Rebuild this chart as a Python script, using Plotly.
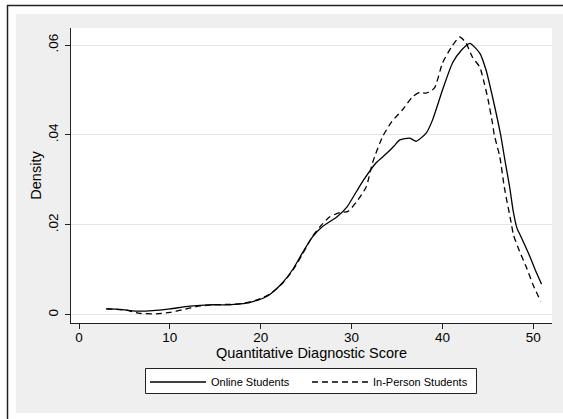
import plotly.graph_objects as go

# ---- data ----
online_x = [3.0, 4.5, 6.3, 8.1, 10.0, 12.2, 14.4, 16.6, 17.7, 18.8, 19.6, 20.2, 21.0,
            22.4, 23.5, 24.6, 25.7, 26.8, 28.4, 29.5, 30.5, 31.4, 32.7, 33.8, 34.7,
            35.3, 36.4, 37.1, 38.2, 38.9, 40.0, 41.1, 42.1, 43.0, 44.1, 44.8, 45.5,
            46.4, 46.9, 47.4, 47.8, 48.2, 48.6, 49.6, 50.2, 50.9]
online_y = [0.0013, 0.0012, 0.0008, 0.0009, 0.0013, 0.0019, 0.0022, 0.0022, 0.0024,
            0.0027, 0.0032, 0.0036, 0.0045, 0.0071, 0.0100, 0.0138, 0.0173, 0.0196,
            0.0218, 0.0240, 0.0273, 0.0302, 0.0338, 0.0358, 0.0376, 0.0389, 0.0393,
            0.0386, 0.0404, 0.0433, 0.0500, 0.0560, 0.0589, 0.0604, 0.0582, 0.0544,
            0.0485, 0.0400, 0.0340, 0.0283, 0.0228, 0.0192, 0.0175, 0.0130, 0.0100,
            0.0068]

inperson_x = [3.0, 5.2, 6.7, 8.5, 10.0, 11.4, 12.9, 14.7, 17.7, 19.6, 21.0, 22.4,
              23.5, 24.6, 25.7, 26.8, 27.6, 28.7, 29.6, 30.5, 31.6, 32.3, 33.4, 34.4,
              35.6, 36.7, 37.5, 38.2, 39.1, 40.0, 41.0, 41.9, 42.6, 43.3, 44.1, 44.6,
              45.0, 45.5, 45.7, 46.3, 46.8, 47.6, 47.8, 48.5, 49.2, 50.0, 50.8]
inperson_y = [0.0013, 0.0010, 0.0003, 0.0002, 0.0005, 0.0011, 0.0018, 0.0022, 0.0024,
              0.0033, 0.0046, 0.0070, 0.0098, 0.0135, 0.0175, 0.0202, 0.0218, 0.0227,
              0.0230, 0.0250, 0.0284, 0.0338, 0.0396, 0.0429, 0.0456, 0.0485, 0.0495,
              0.0493, 0.0504, 0.0560, 0.0596, 0.0618, 0.0604, 0.0573, 0.0551, 0.0515,
              0.0480, 0.0426, 0.0400, 0.0352, 0.0284, 0.0200, 0.0178, 0.0140, 0.0107,
              0.0065, 0.0030]

series_names = ["Online Students", "In-Person Students"]
x_ticks = [0, 10, 20, 30, 40, 50]
y_ticks = [0, 0.02, 0.04, 0.06]
y_ticktext = ["0", ".02", ".04", ".06"]
x_title = "Quantitative Diagnostic Score"
y_title = "Density"

FONT = "Liberation Sans, Arial, sans-serif"
W, H = 563, 419
ML, MR, MT, MB = 71, 11, 28, 96
pw, ph = W - ML - MR, H - MT - MB

def px(x):  # pixel -> paper x
    return (x - ML) / pw

def py(y):  # pixel -> paper y
    return (H - MB - y) / ph

fig = go.Figure()
fig.add_trace(go.Scatter(x=online_x, y=online_y, mode="lines", name=series_names[0],
                         line=dict(color="black", width=1.3, shape="spline", smoothing=0.6)))
fig.add_trace(go.Scatter(x=inperson_x, y=inperson_y, mode="lines", name=series_names[1],
                         line=dict(color="black", width=1.3, dash="6px,4px",
                                   shape="spline", smoothing=0.6)))

shapes = [
    # grey graph region
    dict(type="rect", xref="paper", yref="paper", x0=px(16), x1=px(565), y0=py(413), y1=py(14),
         fillcolor="#efefef", line=dict(width=0), layer="below"),
    # white plot region
    dict(type="rect", xref="paper", yref="paper", x0=0, x1=1, y0=0, y1=1,
         fillcolor="white", line=dict(width=0), layer="below"),
    # outer frame (left + top)
    dict(type="line", xref="paper", yref="paper", x0=px(7.5), x1=px(7.5), y0=py(5), y1=py(422),
         line=dict(color="#222222", width=1.5)),
    dict(type="line", xref="paper", yref="paper", x0=px(7), x1=px(566), y0=py(5.5), y1=py(5.5),
         line=dict(color="#222222", width=1.5)),
    # legend box
    dict(type="rect", xref="paper", yref="paper", x0=px(145.5), x1=px(476.5),
         y0=py(393.5), y1=py(368.5), fillcolor="white",
         line=dict(color="#222222", width=1), layer="above"),
]

fig.update_layout(
    width=W, height=H,
    margin=dict(l=ML, r=MR, t=MT, b=MB, pad=0),
    paper_bgcolor="white", plot_bgcolor="white",
    font=dict(family=FONT, color="black", size=13),
    shapes=shapes,
    showlegend=True,
    legend=dict(orientation="h", x=px(145), xanchor="left", y=py(367.5), yanchor="top",
                bgcolor="rgba(0,0,0,0)", borderwidth=0,
                font=dict(size=11, family=FONT), entrywidth=91, itemwidth=56),
    xaxis=dict(range=[-0.88, 52.05], tickvals=x_ticks, showgrid=False, zeroline=False,
               showline=True, linecolor="#222222", linewidth=1.2, ticks="outside",
               ticklen=5, tickcolor="#222222", tickfont=dict(size=13.5),
               ticklabelstandoff=-3,
               title=dict(text=x_title, font=dict(size=14.5), standoff=3)),
    yaxis=dict(range=[-0.00185, 0.0638], tickvals=y_ticks, ticktext=y_ticktext,
               showgrid=True, gridcolor="#e6e6e6", gridwidth=1, zeroline=False,
               showline=True, linecolor="#222222", linewidth=1.2, ticks="outside",
               ticklen=5, tickcolor="#222222", tickangle=-90, tickfont=dict(size=13.5),
               ticklabelstandoff=2,
               title=dict(text=y_title, font=dict(size=14.5), standoff=0)),
)

fig.write_html("out.html")
